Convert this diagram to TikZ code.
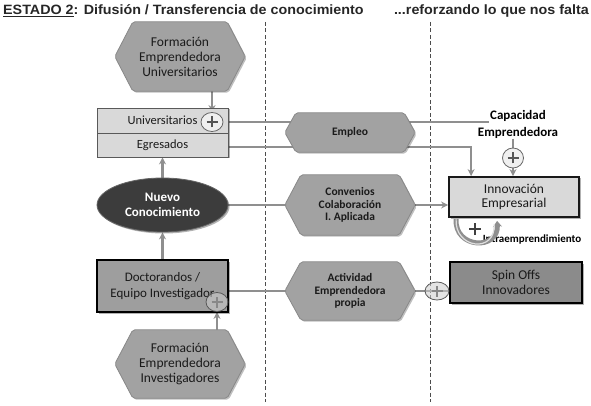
\documentclass[tikz,border=0pt]{standalone}
\usepackage{fontspec}
\setmainfont{Carlito}
\newfontfamily\titlefont{Liberation Sans}[FakeStretch=1.06]
\usetikzlibrary{shapes.geometric,arrows.meta,calc,shadows}
\pgfdeclarelayer{lines}
\pgfdeclarelayer{shapes}
\pgfsetlayers{lines,shapes,main}
\definecolor{hexfill}{HTML}{A2A2A2}
\definecolor{hexedge}{HTML}{888888}
\definecolor{lightbox}{HTML}{D9D9D9}
\definecolor{midbox}{HTML}{9E9E9E}
\definecolor{darkbox}{HTML}{8B8B8B}
\definecolor{ellfill}{HTML}{3C3C3C}
\definecolor{connc}{HTML}{8F8F8F}
\definecolor{txt}{HTML}{1A1A1A}
\definecolor{plusc}{HTML}{555555}
\newcommand\hexpath[2]{%
  \begin{pgfonlayer}{shapes}
  \path[hexshape] (#1.west) -- ([xshift=#2]#1.north west) -- ([xshift=-#2]#1.north east)
    -- (#1.east) -- ([xshift=-#2]#1.south east) -- ([xshift=#2]#1.south west) -- cycle;
  \end{pgfonlayer}}
\begin{document}
\begin{tikzpicture}[x=1pt,y=-1pt,
  hexshape/.style={fill=hexfill, draw=hexedge, line width=0.8pt, rounded corners=2pt,
    drop shadow={shadow xshift=1.5pt, shadow yshift=-1.5pt, opacity=.25, fill=black}},
  hexnode/.style={rectangle, inner sep=0pt, align=center, text=txt},
  hexbold/.style={hexnode, font=\bfseries\fontsize{11.5}{12.5}\selectfont},
  hexreg/.style={hexnode, font=\fontsize{13.5}{15}\selectfont},
  boxnode/.style={rectangle, inner sep=0pt, align=center, text=txt,
    drop shadow={shadow xshift=1.5pt, shadow yshift=-1.5pt, opacity=.3, fill=black}},
  conn/.style={draw=connc, line width=2.2pt},
  arr/.style={conn, -{Stealth[length=7pt,width=7pt]}},
  plusbase/.style={ellipse, inner sep=0pt, minimum width=22pt, minimum height=19pt,
    path picture={\draw[line width=2.6pt, draw=#1]
      ([xshift=-5.5pt]path picture bounding box.center) -- ([xshift=5.5pt]path picture bounding box.center)
      ([yshift=-5.5pt]path picture bounding box.center) -- ([yshift=5.5pt]path picture bounding box.center);}},
  plusw/.style={plusbase=plusc, draw=gray!80!black, line width=0.8pt, fill=white!88!gray},
  plust/.style={plusbase=plusc!70, draw=gray!70!black, line width=0.8pt, fill=gray!40, fill opacity=.55},
  dashln/.style={draw=black!70, line width=0.7pt, dash pattern=on 4pt off 2.5pt}
]
\useasboundingbox (0,0) rectangle (591,406);

% title
\node[anchor=west, inner sep=0pt, font=\titlefont\bfseries\fontsize{13.5}{15}\selectfont, text=black!85] (title) at (3,11)
  {\underline{ESTADO 2}: Difusión / Transferencia de conocimiento};
\node[anchor=east, inner sep=0pt, font=\titlefont\bfseries\fontsize{13.5}{15}\selectfont, text=black!85] (title2) at (589,11)
  {...reforzando lo que nos falta};

% dashed separators
\coordinate (d1t) at (265,22); \coordinate (d1b) at (265,402);
\coordinate (d2t) at (430,22); \coordinate (d2b) at (430,402);

% hexagons
\node[hexreg, minimum width=130pt, minimum height=69pt] (fu) at (180,56.5) {Formación\\Emprendedora\\Universitarios};
\hexpath{fu}{18pt}
\node[hexreg, minimum width=130pt, minimum height=68pt] (fi) at (180,364) {Formación\\Emprendedora\\Investigadores};
\hexpath{fi}{18pt}
\node[hexbold, minimum width=130pt, minimum height=39pt] (empleo) at (350,132.5) {Empleo};
\hexpath{empleo}{11pt}
\node[hexbold, minimum width=130pt, minimum height=60pt] (conv) at (350,205) {Convenios\\Colaboración\\I. Aplicada};
\hexpath{conv}{16pt}
\node[hexbold, minimum width=130pt, minimum height=58pt] (activ) at (350,291) {Actividad\\Emprendedora\\propia};
\hexpath{activ}{16pt}

% boxes
\node[boxnode, fill=lightbox, draw=black!65, line width=0.8pt, minimum width=131pt, minimum height=25pt,
  font=\fontsize{12.5}{14}\selectfont] (univ) at (162.5,120.5) {Universitarios};
\node[boxnode, fill=lightbox, draw=black!65, line width=0.8pt, minimum width=131pt, minimum height=24pt,
  font=\fontsize{12.5}{14}\selectfont] (egr) at (162.5,145) {Egresados};
\node[ellipse, fill=ellfill, draw=black!60, line width=0.8pt, minimum width=131pt, minimum height=54pt,
  inner sep=0pt, align=center, text=white, font=\bfseries\fontsize{13}{15.5}\selectfont,
  drop shadow={shadow xshift=1.5pt, shadow yshift=-1.5pt, opacity=.3, fill=black}] (nuevo) at (162.5,205) {Nuevo\\Conocimiento};
\node[boxnode, fill=midbox, draw=black, line width=2pt, minimum width=131pt, minimum height=52pt,
  font=\fontsize{13}{16.5}\selectfont] (doct) at (162.5,286) {Doctorandos /\\Equipo Investigador};
\node[boxnode, fill=lightbox, draw=black!90, line width=1.8pt, minimum width=130pt, minimum height=40pt,
  font=\fontsize{13.5}{14}\selectfont] (innov) at (514,197) {Innovación\\Empresarial};
\node[boxnode, fill=darkbox, draw=black, line width=1.8pt, minimum width=132pt, minimum height=41pt,
  font=\fontsize{13.5}{14.5}\selectfont] (spin) at (516,282.5) {Spin Offs\\Innovadores};

% labels
\node[align=center, inner sep=0pt, text=black, font=\bfseries\fontsize{13}{16.5}\selectfont] (cap) at (518,124.5) {Capacidad\\Emprendedora};
\node[inner sep=0pt, text=black, font=\bfseries\fontsize{11}{13}\selectfont] (intra) at (532,240) {Intraemprendimiento};
\coordinate (capin) at (489,122);

% plus circles
\node[plusw] (p1) at (212,122) {};
\node[plust] (p2) at (217,302) {};
\node[plusw, minimum width=21pt, minimum height=20pt] (p3) at (513,158) {};
\node[plust, minimum width=24pt, minimum height=18pt] (p4) at (437,291) {};

% connectors
\begin{pgfonlayer}{lines}
\draw[dashln] (d1t) -- (d1b);
\draw[dashln] (d2t) -- (d2b);
\draw[arr] (fu.south -| p1) -- (p1.north);
\draw[conn] (p1.east) -- (capin);
\draw[arr] ([yshift=-2pt]egr.east) -| ([xshift=23pt]innov.north west);
\draw[arr] (cap.south -| p3) -- (p3 |- innov.north);
\draw[arr] (nuevo.north) -- (egr.south);
\draw[arr] (doct.north) -- (nuevo.south);
\draw[arr] (fi.north -| p2) -- (p2.south);
\draw[conn] (nuevo.east) -- (conv.center);
\draw[arr] (conv.east) -- (conv.east -| innov.west);
\draw[conn] (activ.center -| doct.east) -- (activ.center);
\draw[conn] (activ.east) -- (activ.east -| spin.west);
\end{pgfonlayer}

% intraemprendimiento loop
\draw[draw=connc, line width=5pt, -{Stealth[length=6pt,width=9pt]}]
  ([xshift=8pt,yshift=-1pt]innov.south west) .. controls +(-2,30) and +(2,30) .. ([xshift=49pt,yshift=-3pt]innov.south west);
\draw[draw=white!75!gray, line width=1.2pt]
  ([xshift=8pt,yshift=-1pt]innov.south west) .. controls +(-2,30) and +(2,30) .. ([xshift=46pt,yshift=-6pt]innov.south west);
\node[inner sep=0pt, minimum width=14pt, minimum height=14pt,
  path picture={\draw[line width=2.8pt, draw=black!75]
      ([xshift=-6pt]path picture bounding box.center) -- ([xshift=6pt]path picture bounding box.center)
      ([yshift=-6pt]path picture bounding box.center) -- ([yshift=6pt]path picture bounding box.center);}]
  (p5) at (475,229) {};
\end{tikzpicture}
\end{document}
